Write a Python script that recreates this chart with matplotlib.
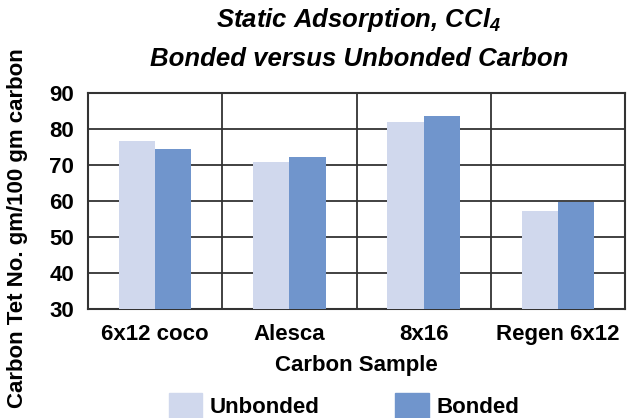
import numpy as np
import matplotlib.pyplot as plt
from matplotlib.patches import Patch

plt.rcParams['font.family'] = ['Liberation Sans', 'DejaVu Sans']
plt.rcParams['font.weight'] = 'bold'
plt.rcParams['axes.labelweight'] = 'bold'
plt.rcParams['mathtext.fontset'] = 'custom'
plt.rcParams['mathtext.bf'] = 'Liberation Sans:bold:italic'

categories = ['6x12 coco', 'Alesca', '8x16', 'Regen 6x12']
unbonded = [76.7, 70.9, 81.9, 57.3]
bonded = [74.4, 72.2, 83.5, 59.7]
yticks = [30, 40, 50, 60, 70, 80, 90]

c_unb = '#d0d8ed'
c_bon = '#7095cc'
line_c = '#333333'

fig = plt.figure(figsize=(6.27, 4.18), dpi=100)
ax = fig.add_axes([88 / 627, 1 - 309 / 418, 537 / 627, 216 / 418])

x = np.arange(len(categories))
w = 0.27
ax.bar(x - w / 2, unbonded, w, color=c_unb, zorder=3)
ax.bar(x + w / 2, bonded, w, color=c_bon, zorder=3)

ax.set_xlim(-0.5, len(categories) - 0.5)
ax.set_ylim(30, 90)
ax.set_yticks(yticks)
ax.set_xticks(x)
ax.set_xticklabels(categories)
ax.tick_params(axis='both', length=0, labelsize=16)
ax.tick_params(axis='x', pad=11)
ax.tick_params(axis='y', pad=10)

for y in yticks[1:-1]:
    ax.axhline(y, color=line_c, lw=1.3, zorder=1)
for sep in x[:-1] + 0.5:
    ax.axvline(sep, color=line_c, lw=1.3, zorder=1)
for s in ax.spines.values():
    s.set_color(line_c)
    s.set_linewidth(1.5)

ax.set_xlabel('Carbon Sample', fontsize=16, labelpad=7)
fig.text(18 / 627, 0.455, 'Carbon Tet No. gm/100 gm carbon', rotation=90,
         ha='center', va='center', fontsize=16, fontweight='bold')

fig.text(359 / 627, 1 - 20 / 418, r'Static Adsorption, CCl$_\mathbf{4}$', ha='center', va='center',
         fontsize=18.5, fontweight='bold', style='italic')
fig.text(359 / 627, 1 - 59 / 418, 'Bonded versus Unbonded Carbon', ha='center', va='center',
         fontsize=18.5, fontweight='bold', style='italic')

handles = [Patch(color=c_unb, label='Unbonded'), Patch(color=c_bon, label='Bonded')]
fig.legend(handles=handles, loc='lower center', bbox_to_anchor=(344 / 627, 0), ncol=2,
           frameon=False, fontsize=16, handlelength=1.5, handleheight=1.3,
           columnspacing=3.4, handletextpad=0.35, borderaxespad=0, borderpad=0)

fig.savefig('out.png', dpi=100)
